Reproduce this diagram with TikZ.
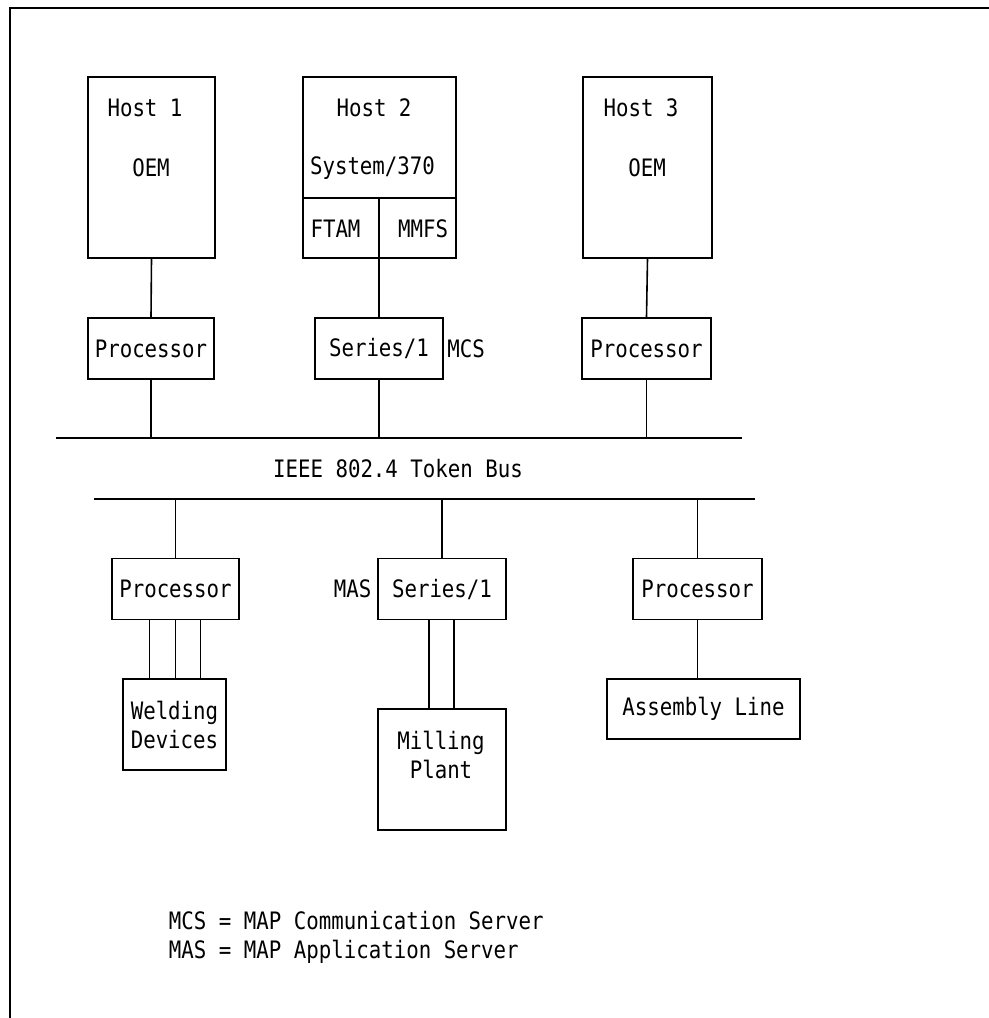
\documentclass[tikz,border=0pt]{standalone}
\usepackage{fontspec}
\newfontfamily\ibmfont[FakeStretch=0.865]{DejaVu Sans Mono}

\tikzset{
  unit/.style={draw,line width=0.8pt,inner sep=0pt,minimum height=30.5pt},
  hostbox/.style={draw,line width=0.8pt,inner sep=0pt,minimum height=90.5pt},
  lbl/.style={inner sep=0pt}
}

\begin{document}
\begin{tikzpicture}[x=0.5pt,y=-0.5pt,line width=0.8pt,font=\ibmfont\fontsize{12}{14.5}\selectfont]
\useasboundingbox (0,0) rectangle (989,1018);
\draw (10,1018) -- (10,8) -- (989,8);

\node[hostbox,minimum width=63.5pt] (host1) at (151.5,167.5) {};
\node[hostbox,minimum width=76.5pt] (host2) at (379.5,167.5) {};
\node[hostbox,minimum width=64.5pt] (host3) at (647.5,167.5) {};
\node[lbl] (host1name) at (145,108) {Host 1};
\node[lbl] (host1oem) at (151,168) {OEM};
\node[lbl] (host2name) at (374,108) {Host 2};
\node[lbl] (host2sys) at (372.5,168) {System/370};
\node[lbl] (host3name) at (641,108) {Host 3};
\node[lbl] (host3oem) at (647,168) {OEM};
\coordinate (h2split) at (379,198);
\draw (host2.west |- h2split) -- (host2.east |- h2split);
\node[lbl] (ftam) at (335.5,229) {FTAM};
\node[lbl] (mmfs) at (423,229) {MMFS};

\node[unit,minimum width=63pt] (proc1) at (151,348.5) {Processor};
\node[unit,minimum width=64pt] (ser1) at (379,348.5) {Series/1};
\node[unit,minimum width=64.5pt] (proc3) at (646.5,348.5) {Processor};
\node[lbl] (mcs) at (466,349) {MCS};

\draw (host1.south) -- (proc1.north);
\draw (h2split) -- (ser1.north);
\draw (host3.south) -- (proc3.north);

% token bus
\coordinate (busa) at (56,438);
\coordinate (busb) at (742,438);
\coordinate (busc) at (94,499);
\coordinate (busd) at (755,499);
\draw (busa) -- (busb);
\draw (busc) -- (busd);
\node[lbl] (buslbl) at (398,469) {IEEE 802.4 Token Bus};
\foreach \n in {proc1,ser1,proc3}
  \draw (\n.south) -- (\n.south |- busa);

\node[unit,minimum width=63.5pt] (procl) at (175.5,589) {Processor};
\node[unit,minimum width=64pt] (ser2) at (442,589) {Series/1};
\node[unit,minimum width=64.5pt] (procr) at (697.5,589) {Processor};
\node[lbl] (mas) at (352.5,589) {MAS};
\foreach \n in {procl,ser2,procr}
  \draw (\n.north) -- (\n.north |- busc);

\node[unit,minimum width=51.5pt,minimum height=45.5pt,align=center] (weld) at (174.5,724.5) {Welding\\Devices};
\node[unit,minimum width=64pt,minimum height=60.5pt] (mill) at (442,769.5) {};
\node[lbl,align=center] (milltxt) at (441,755) {Milling\\Plant};
\node[unit,minimum width=96.5pt,minimum height=30pt] (assy) at (703.5,709) {Assembly Line};

\foreach \dx in {-26,0,25}
  \draw ([xshift=\dx*0.5pt]procl.south) -- ([xshift=\dx*0.5pt]procl.south |- weld.north);
\foreach \dx in {-13,12}
  \draw ([xshift=\dx*0.5pt]ser2.south) -- ([xshift=\dx*0.5pt]ser2.south |- mill.north);
\draw (procr.south) -- (procr.south |- assy.north);

\node[lbl,anchor=west,align=left] (legend) at (168,937) {MCS = MAP Communication Server\\MAS = MAP Application Server};
\end{tikzpicture}
\end{document}
